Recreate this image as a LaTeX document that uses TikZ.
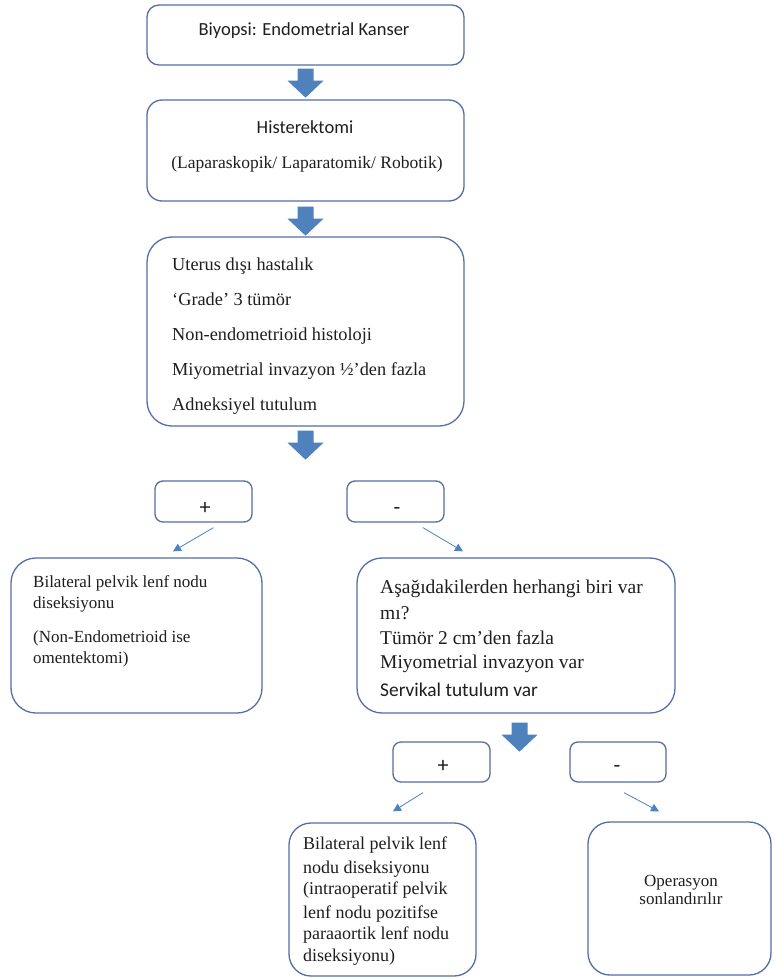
\documentclass[tikz,border=0pt]{standalone}
\usepackage{fontspec}
\setmainfont{Liberation Serif}
\newfontfamily\calfont{Carlito}
\usetikzlibrary{arrows.meta,calc}
\definecolor{bordc}{RGB}{84,110,165}
\definecolor{arrc}{RGB}{79,129,189}
\definecolor{txtc}{RGB}{30,30,30}
\begin{document}
\begin{tikzpicture}[x=1pt,y=-1pt,
  box/.style={draw=bordc,line width=1.3pt,fill=white,rounded corners=#1,inner sep=0pt},
  box/.default=12pt,
  tx/.style={inner sep=0pt,text=txtc,anchor=base west},
  txc/.style={inner sep=0pt,text=txtc,anchor=base},
  thinarr/.style={draw=arrc,line width=0.8pt,-{Triangle[length=8pt,width=8pt]}},
  blockarr/.pic={\fill[arrc] (-8,0) -- (8,0) -- (8,12) -- (18,12) -- (0,29) -- (-18,12) -- (-8,12) -- cycle;},
  fA/.style={font=\calfont\fontsize{18.5}{22}\selectfont},
  fS/.style={font=\calfont\fontsize{22}{26}\selectfont},
  fB/.style={font=\fontsize{18.3}{22}\selectfont},
  fC/.style={font=\fontsize{17}{20}\selectfont},
  fD/.style={font=\fontsize{19.5}{23}\selectfont},
  fE/.style={font=\fontsize{18}{22}\selectfont},
  fF/.style={font=\calfont\fontsize{19.4}{23}\selectfont},
  fG/.style={font=\fontsize{17.5}{21}\selectfont}
]
\fill[white] (0,0) rectangle (774,979);
\useasboundingbox (0,0) rectangle (774,979);

% boxes
\node[box,minimum width=317pt,minimum height=60pt] (b1) at (305.5,35) {};
\node[box=15pt,minimum width=317pt,minimum height=101pt] (b2) at (305.5,150.5) {};
\node[box=25pt,minimum width=317pt,minimum height=189pt] (b3) at (305.5,331.5) {};
\node[box=8pt,minimum width=97pt,minimum height=41pt] (p1) at (203.5,501.5) {};
\node[box=8pt,minimum width=97pt,minimum height=41pt] (m1) at (395.5,501.5) {};
\node[box=25pt,minimum width=251pt,minimum height=155pt] (lb) at (136.5,635.5) {};
\node[box=25pt,minimum width=318pt,minimum height=155pt] (rb) at (516,635.5) {};
\node[box=8pt,minimum width=97pt,minimum height=40pt] (p2) at (441.5,762) {};
\node[box=8pt,minimum width=96pt,minimum height=40pt] (m2) at (618,762) {};
\node[box=22pt,minimum width=187pt,minimum height=153pt] (bl) at (382.5,899.5) {};
\node[box=22pt,minimum width=183pt,minimum height=153pt] (br) at (679.5,898.5) {};

% block arrows
\pic at ($(b1.south)+(0,3)$) {blockarr};
\pic at ($(b2.south)+(0,5)$) {blockarr};
\pic at ($(b3.south)+(0,4)$) {blockarr};
\pic at ($(rb.south)+(3.5,9)$) {blockarr};

% thin arrows
\coordinate (p1s) at ($(p1.south)+(10,5)$);
\coordinate (lbn) at ($(lb.north)+(36.5,-6)$);
\coordinate (m1s) at ($(m1.south)+(27.5,5)$);
\coordinate (rbn) at ($(rb.north)+(-53,-6)$);
\coordinate (p2s) at ($(p2.south)+(-18.5,10)$);
\coordinate (bln) at ($(bl.north)+(10.5,-11)$);
\coordinate (m2s) at ($(m2.south)+(6,10)$);
\coordinate (brn) at ($(br.north)+(-20.5,-10)$);
\draw[thinarr] (p1s) -- (lbn);
\draw[thinarr] (m1s) -- (rbn);
\draw[thinarr] (p2s) -- (bln);
\draw[thinarr] (m2s) -- (brn);

% texts
\node[txc,fA] (t1) at (304,36) {Biyopsi: Endometrial Kanser};
\node[txc,fA] (t2a) at (305,133) {Histerektomi};
\node[txc,fG] (t2b) at (307,168) {(Laparaskopik/ Laparatomik/ Robotik)};

\node[tx,fB] (t3a) at (172,270) {Uterus dışı hastalık};
\node[tx,fB] (t3b) at (172,305) {‘Grade’ 3 tümör};
\node[tx,fB] (t3c) at (172,340) {Non-endometrioid histoloji};
\node[tx,fB] (t3d) at (172,375) {Miyometrial invazyon ½’den fazla};
\node[tx,fB] (t3e) at (172,410) {Adneksiyel tutulum};

\node[txc,fS] (tp1) at (205,514) {+};
\node[txc,fS] (tm1) at (397,514) {-};

\node[tx,fC] (tla) at (33,587.5) {Bilateral pelvik lenf nodu};
\node[tx,fC] (tlb) at (33,608.5) {diseksiyonu};
\node[tx,fC] (tlc) at (33,642.5) {(Non-Endometrioid ise};
\node[tx,fC] (tld) at (33,663.5) {omentektomi)};

\node[tx,fD] (tra) at (380,593.5) {Aşağıdakilerden herhangi biri var};
\node[tx,fD] (trb) at (380,619.5) {mı?};
\node[tx,fD] (trc) at (380,644.5) {Tümör 2 cm’den fazla};
\node[tx,fD] (trd) at (380,668.5) {Miyometrial invazyon var};
\node[tx,fF] (tre) at (380,696.5) {Servikal tutulum var};

\node[txc,fS] (tp2) at (443,772) {+};
\node[txc,fS] (tm2) at (617,772) {-};

\node[tx,fE] (tba) at (303,849) {Bilateral pelvik lenf};
\node[tx,fE] (tbb) at (303,873) {nodu diseksiyonu};
\node[tx,fE] (tbc) at (303,894) {(intraoperatif pelvik};
\node[tx,fE] (tbd) at (303,918) {lenf nodu pozitifse};
\node[tx,fE] (tbe) at (303,939) {paraaortik lenf nodu};
\node[tx,fE] (tbf) at (303,961) {diseksiyonu)};

\node[txc,fC] (tra1) at (681,886) {Operasyon};
\node[txc,fC] (tra2) at (681,904) {sonlandırılır};
\end{tikzpicture}
\end{document}
